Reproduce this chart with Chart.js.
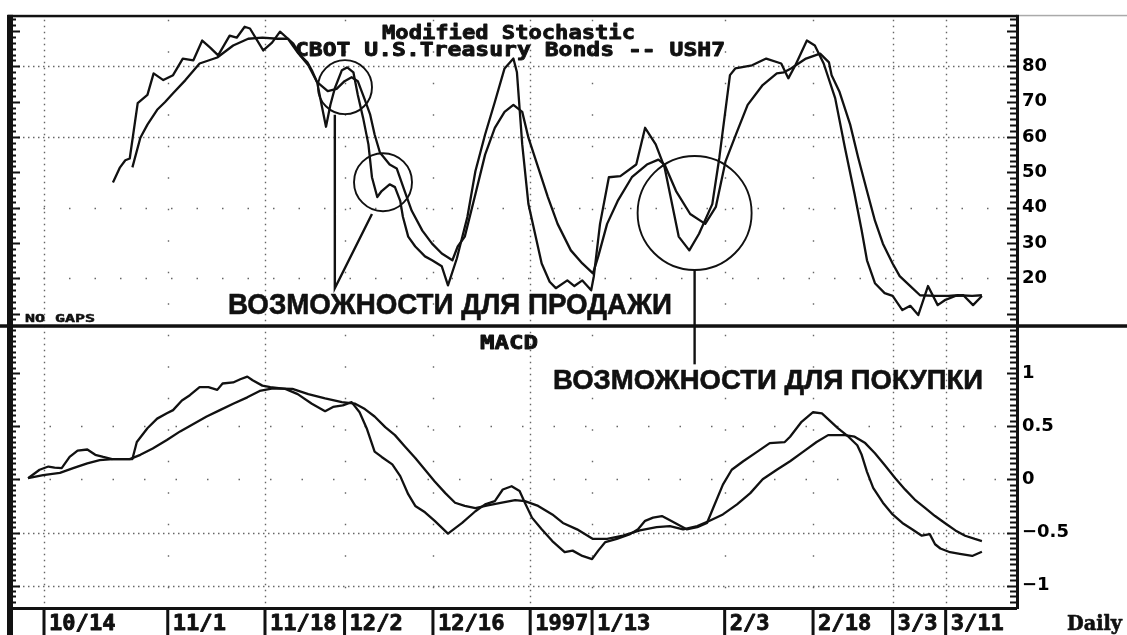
<!DOCTYPE html>
<html lang="ru">
<head>
  <meta charset="UTF-8" />
  <title>Modified Stochastic / MACD - USH7</title>
  <script src="https://cdn.jsdelivr.net/npm/chart.js"></script>
  <style>
    html, body { margin: 0; padding: 0; background: #fff; }
    #wrap { width: 1127px; height: 635px; }
  </style>
</head>
<body>
  <div id="wrap"><canvas id="chart" width="1127" height="635"></canvas></div>

  <script>
    // x unit = trading day counted from 10/14/96
    const dateTicks  = [0, 14, 25, 34, 44, 55, 62, 77, 87, 96, 102];
    const dateLabels = ['10/14', '11/1', '11/18', '12/2', '12/16', '1997', '1/13', '2/3', '2/18', '3/3', '3/11'];
    const denseDays  = [0, 25, 55, 96, 102];
    const sparseDays = [14, 34, 44, 62, 77, 87];

    const stochTicks = [20, 30, 40, 50, 60, 70, 80];
    const macdTicks  = [-1, -0.5, 0, 0.5, 1];

    // Modified stochastic, fast line
    const kDays = [7.8, 8.6, 9.2, 9.7, 10.6, 11.7, 12.4, 13.5, 14.6, 15.7,
      16.9, 17.9, 18.8, 19.7, 21.0, 21.8, 22.7, 23.3, 24.8, 25.8,
      26.7, 27.6, 28.2, 29.0, 29.8, 30.3, 30.9, 31.4, 31.9, 32.4,
      32.9, 33.7, 34.3, 35.0, 35.5, 36.1, 36.7, 37.1, 37.7, 38.2,
      39.1, 39.7, 40.3, 40.6, 41.2, 42.0, 43.1, 43.9, 45.0, 45.7,
      46.7, 47.9, 48.8, 49.9, 51.0, 52.1, 53.1, 53.5, 54.1, 54.8,
      56.3, 57.2, 57.9, 59.2, 60.0, 60.9, 61.9, 62.2, 62.9, 63.9,
      65.2, 67.0, 68.0, 69.2, 70.2, 71.8, 73.0, 74.1, 75.6, 76.4,
      77.6, 78.2, 80.1, 81.7, 83.4, 84.2, 85.0, 86.3, 87.2, 88.2,
      89.5, 90.6, 91.7, 92.5, 93.1, 94.0, 95.1, 96.0, 97.1, 98.0,
      98.9, 100.0, 101.1, 101.9, 103.1, 104.0, 105.1, 106.1];
    const kVals = [47.1, 51.4, 53.4, 53.9, 69.6, 71.9, 78.0, 76.1, 77.5, 82.2,
      81.7, 87.3, 85.3, 83.1, 88.7, 88.1, 91.2, 90.7, 84.5, 86.7,
      89.8, 87.8, 86.4, 83.1, 81.1, 78.9, 75.5, 69.1, 62.9, 69.1,
      73.8, 78.9, 79.7, 78.3, 71.9, 65.4, 57.9, 48.6, 43.0, 44.7,
      46.6, 45.8, 41.9, 37.4, 31.8, 29.0, 26.2, 25.1, 23.4, 18.0,
      25.6, 37.4, 50.3, 60.7, 69.9, 79.4, 82.2, 78.3, 57.9, 41.0,
      24.2, 19.0, 17.2, 19.4, 17.8, 19.4, 16.6, 20.6, 35.4, 48.6,
      48.9, 52.2, 62.6, 57.9, 51.4, 31.8, 27.9, 32.6, 41.0, 54.2,
      77.5, 79.4, 80.3, 82.2, 80.8, 76.6, 80.3, 87.3, 85.9, 80.8,
      71.0, 57.0, 43.8, 33.5, 25.1, 18.6, 15.8, 15.0, 11.0, 12.2,
      9.6, 17.8, 12.4, 13.8, 15.0, 15.2, 12.4, 15.0];

    // Modified stochastic, slow line
    const dDays = [10.0, 10.9, 11.7, 12.8, 13.7, 14.6, 16.0, 17.6, 19.6, 21.4,
      23.1, 24.7, 26.4, 27.6, 28.7, 29.9, 30.9, 32.1, 33.1, 34.0,
      34.8, 35.5, 36.3, 36.9, 37.4, 38.0, 39.1, 39.9, 40.8, 41.6,
      42.8, 43.9, 45.0, 46.2, 46.8, 47.6, 48.8, 49.9, 51.0, 52.1,
      53.1, 54.1, 54.8, 55.9, 57.0, 58.1, 59.6, 60.9, 62.1, 62.7,
      63.7, 64.9, 66.5, 68.2, 69.5, 70.2, 71.5, 73.1, 74.8, 76.0,
      77.1, 78.4, 79.6, 81.3, 82.9, 83.7, 84.5, 86.2, 87.8, 88.8,
      89.1, 90.0, 91.2, 92.1, 93.1, 94.0, 94.9, 96.0, 96.8, 98.0,
      99.1, 100.8, 102.3, 103.4, 105.0, 106.1];
    const dVals = [51.4, 59.8, 63.5, 67.7, 69.9, 72.4, 76.1, 80.8, 82.5, 85.9,
      87.8, 88.1, 87.8, 87.8, 83.9, 80.3, 75.5, 73.0, 73.6, 75.8,
      76.9, 75.8, 70.5, 66.3, 60.7, 55.6, 52.2, 51.1, 44.7, 39.1,
      33.5, 29.8, 27.0, 25.1, 29.0, 31.8, 43.8, 55.0, 62.6, 67.1,
      69.1, 67.1, 59.8, 51.4, 43.0, 35.4, 27.9, 24.2, 21.4, 26.2,
      35.4, 41.9, 48.6, 52.2, 53.6, 52.2, 44.7, 38.2, 35.4, 40.2,
      53.1, 61.5, 69.1, 74.7, 78.0, 78.3, 79.4, 82.2, 83.6, 81.1,
      77.5, 72.7, 63.5, 54.2, 44.7, 36.3, 29.8, 24.2, 20.6, 17.8,
      15.2, 15.0, 15.0, 15.2, 15.0, 15.2];

    // MACD line
    const mDays = [-1.8, -0.5, 0.5, 1.2, 2.0, 2.9, 3.8, 4.9, 5.8, 6.7,
      7.7, 10.0, 10.5, 11.7, 12.8, 13.9, 14.6, 15.6, 16.5, 17.6,
      18.6, 19.6, 20.2, 21.4, 22.2, 23.0, 23.6, 24.7, 25.6, 27.3,
      28.7, 30.3, 31.8, 32.7, 33.8, 34.8, 35.7, 36.5, 37.4, 38.2,
      39.4, 40.3, 41.2, 42.0, 43.1, 44.2, 45.7, 47.3, 48.8, 49.9,
      51.0, 51.9, 52.9, 53.8, 54.4, 55.2, 56.3, 57.5, 58.9, 59.8,
      60.9, 62.0, 62.7, 63.5, 64.8, 66.3, 67.2, 68.0, 68.9, 69.9,
      70.6, 71.6, 72.7, 73.9, 75.0, 75.7, 76.8, 77.8, 79.1, 80.7,
      82.1, 83.8, 84.4, 85.7, 87.0, 88.0, 89.8, 91.0, 92.0, 92.5,
      93.1, 93.8, 94.9, 96.0, 97.1, 98.2, 99.3, 100.2, 100.8, 101.4,
      102.5, 103.6, 105.0, 106.1];
    const mVals = [0.01, 0.09, 0.12, 0.11, 0.105, 0.21, 0.27, 0.28, 0.23, 0.21,
      0.19, 0.19, 0.35, 0.48, 0.57, 0.62, 0.65, 0.74, 0.79, 0.865,
      0.865, 0.84, 0.90, 0.91, 0.94, 0.965, 0.93, 0.88, 0.865, 0.85,
      0.80, 0.71, 0.64, 0.68, 0.695, 0.725, 0.63, 0.48, 0.26, 0.21,
      0.14, 0.03, -0.14, -0.25, -0.31, -0.39, -0.51, -0.41, -0.30, -0.235,
      -0.205, -0.096, -0.065, -0.11, -0.22, -0.36, -0.47, -0.58, -0.685, -0.67,
      -0.72, -0.75, -0.67, -0.59, -0.56, -0.515, -0.47, -0.39, -0.36, -0.345,
      -0.375, -0.42, -0.47, -0.45, -0.41, -0.27, -0.05, 0.09, 0.17, 0.26,
      0.34, 0.35, 0.40, 0.54, 0.63, 0.62, 0.48, 0.40, 0.32, 0.23,
      0.07, -0.08, -0.22, -0.33, -0.41, -0.47, -0.53, -0.515, -0.61, -0.65,
      -0.685, -0.70, -0.72, -0.68];

    // MACD signal line
    const sDays = [-1.8, -0.1, 1.8, 3.3, 4.9, 6.3, 7.8, 9.7, 10.9, 12.3,
      13.9, 15.4, 16.9, 18.4, 19.9, 21.4, 23.0, 24.4, 25.9, 28.1,
      29.9, 31.8, 33.7, 35.2, 36.3, 37.4, 38.6, 39.7, 40.8, 42.0,
      43.1, 44.2, 45.4, 46.5, 47.6, 48.8, 50.2, 51.8, 53.3, 54.4,
      55.9, 57.5, 58.7, 60.3, 62.1, 63.7, 65.5, 67.4, 69.3, 70.8,
      72.3, 73.9, 75.3, 76.8, 78.4, 79.9, 81.3, 82.9, 84.4, 85.9,
      87.4, 88.7, 90.6, 91.7, 92.9, 94.0, 95.1, 96.3, 97.4, 98.5,
      99.7, 100.8, 101.9, 103.1, 104.2, 105.3, 106.1];
    const sVals = [0.01, 0.04, 0.06, 0.105, 0.15, 0.18, 0.19, 0.19, 0.23, 0.29,
      0.37, 0.45, 0.52, 0.59, 0.65, 0.71, 0.77, 0.83, 0.855, 0.85,
      0.80, 0.76, 0.725, 0.71, 0.66, 0.59, 0.49, 0.415, 0.31, 0.20,
      0.09, -0.02, -0.13, -0.22, -0.25, -0.27, -0.245, -0.22, -0.195, -0.205,
      -0.25, -0.33, -0.41, -0.47, -0.56, -0.56, -0.53, -0.48, -0.45, -0.44,
      -0.47, -0.44, -0.39, -0.33, -0.235, -0.13, 0.00, 0.09, 0.17, 0.26,
      0.35, 0.415, 0.415, 0.40, 0.34, 0.245, 0.135, 0.01, -0.095, -0.19,
      -0.27, -0.345, -0.41, -0.48, -0.53, -0.56, -0.58];

    // hand-drawn notes, in chart units (day, value)
    const sellRings = [{ day: 34.05, val: 74.1, r: 27 }, { day: 38.35, val: 47.2, r: 29 }];
    const buyRing = { day: 73.6, val: 38.5, r: 57 };
    const sellPointer = { days: [32.9, 32.9, 37.1], vals: [66.3, 17.2, 38.2] };
    const buyPointer = { day: 73.6, fromStoch: 22.2, toMacd: 1.08 };

    const ink = '#111';

    function pts(days, vals) {
      return days.map((d, i) => ({ x: d, y: vals[i] }));
    }

    // draw text squeezed/stretched to a given width; heavy = extra outline
    function fitText(ctx, text, left, baseline, width, font, heavy) {
      ctx.save();
      ctx.font = font;
      const w = ctx.measureText(text).width;
      ctx.translate(left, baseline);
      ctx.scale(width / w, 1);
      ctx.textAlign = 'left';
      ctx.textBaseline = 'alphabetic';
      ctx.fillText(text, 0, 0);
      if (heavy) {
        ctx.lineWidth = heavy;
        ctx.lineJoin = 'round';
        ctx.strokeText(text, 0, 0);
      }
      ctx.restore();
    }

    const paper = {
      id: 'paper',
      beforeDatasetsDraw(chart) {
        const { ctx, chartArea: a, scales: { x, yS, yM } } = chart;
        ctx.save();
        ctx.strokeStyle = '#666';
        ctx.lineWidth = 1.4;

        function hline(scale, v, dash) {
          const y = Math.round(scale.getPixelForValue(v)) + 0.5;
          ctx.setLineDash(dash);
          ctx.beginPath();
          ctx.moveTo(a.left + 6, y);
          ctx.lineTo(a.right - 8, y);
          ctx.stroke();
        }
        hline(yS, 80, [1.5, 3.5]);
        hline(yS, 60, [1.5, 3.5]);
        hline(yS, 40, [1.5, 24]);
        hline(yS, 20, [1.5, 24]);
        hline(yM, 0.5, [1.5, 30]);
        hline(yM, 0, [1.5, 30]);
        hline(yM, -0.5, [1.5, 3.5]);
        hline(yM, -1, [1.5, 3.5]);

        function vline(day, dash) {
          const px = Math.round(x.getPixelForValue(day)) + 0.5;
          ctx.setLineDash(dash);
          ctx.beginPath();
          ctx.moveTo(px, a.top + 4);
          ctx.lineTo(px, a.bottom - 2);
          ctx.stroke();
        }
        denseDays.forEach(d => vline(d, [1.5, 4.5]));
        sparseDays.forEach(d => vline(d, [1.5, 30]));
        ctx.restore();
      },

      afterDatasetsDraw(chart) {
        const { ctx, chartArea: a, scales: { x, yS, yM } } = chart;
        const W = chart.width, H = chart.height;
        const split = yS.bottom;
        ctx.save();
        ctx.fillStyle = ink;
        ctx.strokeStyle = ink;

        // frame
        ctx.fillRect(7, a.top - 1, 6, H - a.top + 1);          // left border
        ctx.fillRect(8, a.top - 1, a.right - 8, 2.5);           // top border
        ctx.fillStyle = '#aaa';
        ctx.fillRect(a.right, a.top - 1, W - a.right, 1.5);
        ctx.fillStyle = ink;
        ctx.fillRect(0, split - 1, W, 3.5);                     // panel divider
        ctx.fillRect(8, a.bottom - 1, a.right - 8, 3);          // bottom of MACD pane
        ctx.fillRect(a.right - 1, a.top - 1, 3, a.bottom - a.top + 2); // right axis

        // tick marks
        ctx.lineWidth = 1.8;
        function tickRun(scale, from, to, step, majorEvery) {
          for (let i = 0; ; i++) {
            const v = from + i * step;
            if (v > to + 1e-9) break;
            const y = Math.round(scale.getPixelForValue(v)) + 0.5;
            if (y < scale.top + 3 || y > scale.bottom - 3) continue;
            const major = i % majorEvery === 0;
            ctx.beginPath();
            ctx.moveTo(13, y); ctx.lineTo(major ? 20 : 16, y);
            ctx.moveTo(a.right - (major ? 10 : 7), y); ctx.lineTo(a.right, y);
            ctx.stroke();
          }
        }
        tickRun(yS, 0, 100, 10 / 6, 6);
        tickRun(yM, -1.5, 1.5, 0.05, 10);

        // date row
        const mono = 'bold 21px "DejaVu Sans Mono"';
        dateTicks.forEach((d, i) => {
          const px = x.getPixelForValue(d);
          ctx.fillRect(px - 1.5, a.bottom, 3, H - a.bottom);
          fitText(ctx, dateLabels[i], px + 5, H - 5, dateLabels[i].length * 13.3, mono, 0.8);
        });
        fitText(ctx, 'Daily', 1067, H - 5, 55, 'bold 20px "DejaVu Serif"', 0.6);

        // titles
        fitText(ctx, 'Modified Stochastic', 382, a.top + 23, 253, 'bold 20px "DejaVu Sans Mono"', 0.9);
        fitText(ctx, 'CBOT U.S.Treasury Bonds -- USH7', 295, a.top + 40, 430, 'bold 20px "DejaVu Sans Mono"', 0.9);
        fitText(ctx, 'MACD', 480, split + 24, 58, 'bold 20px "DejaVu Sans Mono"', 0.9);
        fitText(ctx, 'NO GAPS', 25, split - 3, 70, 'bold 11px "DejaVu Sans Mono"', 0.5);

        // notes
        ctx.lineWidth = 1.9;
        sellRings.concat([buyRing]).forEach(c => {
          ctx.beginPath();
          ctx.arc(x.getPixelForValue(c.day), yS.getPixelForValue(c.val), c.r, 0, Math.PI * 2);
          ctx.stroke();
        });
        ctx.lineWidth = 2.4;
        ctx.beginPath();
        sellPointer.days.forEach((d, i) => {
          const px = x.getPixelForValue(d), py = yS.getPixelForValue(sellPointer.vals[i]);
          if (i === 0) ctx.moveTo(px, py); else ctx.lineTo(px, py);
        });
        ctx.stroke();
        ctx.beginPath();
        ctx.moveTo(x.getPixelForValue(buyPointer.day), yS.getPixelForValue(buyPointer.fromStoch));
        ctx.lineTo(x.getPixelForValue(buyPointer.day), yM.getPixelForValue(buyPointer.toMacd));
        ctx.stroke();

        fitText(ctx, 'ВОЗМОЖНОСТИ ДЛЯ ПРОДАЖИ', 228, 314, 444, 'bold 29px "Liberation Sans"', 0.6);
        fitText(ctx, 'ВОЗМОЖНОСТИ ДЛЯ ПОКУПКИ', 553, 389, 430, 'bold 27px "Liberation Sans"', 0.6);
        ctx.restore();
      }
    };

    const axisFont = { family: 'DejaVu Sans', weight: 'bold', size: 18 };

    new Chart(document.getElementById('chart'), {
      type: 'line',
      data: {
        datasets: [
          { label: '%K', data: pts(kDays, kVals), yAxisID: 'yS' },
          { label: '%D', data: pts(dDays, dVals), yAxisID: 'yS' },
          { label: 'MACD', data: pts(mDays, mVals), yAxisID: 'yM' },
          { label: 'Signal', data: pts(sDays, sVals), yAxisID: 'yM' }
        ]
      },
      options: {
        responsive: false,
        animation: false,
        events: [],
        devicePixelRatio: 1,
        layout: { padding: { left: 12, top: 10, right: 0, bottom: 27 } },
        elements: {
          line: { borderColor: ink, borderWidth: 2.3, tension: 0, fill: false, borderJoinStyle: 'round' },
          point: { radius: 0 }
        },
        plugins: { legend: { display: false }, tooltip: { enabled: false } },
        scales: {
          x: { type: 'linear', min: -3.62, max: 110.07, display: false },
          yS: {
            type: 'linear', position: 'right', stack: 'panes', stackWeight: 312.5,
            min: 6.7, max: 94.3,
            grid: { display: false, drawTicks: false }, border: { display: false },
            afterBuildTicks: s => { s.ticks = stochTicks.map(v => ({ value: v })); },
            afterFit: s => { s.width = 110; },
            ticks: { color: '#000', padding: 5, autoSkip: false, font: axisFont }
          },
          yM: {
            type: 'linear', position: 'right', stack: 'panes', stackWeight: 285.5,
            min: -1.209, max: 1.447,
            grid: { display: false, drawTicks: false }, border: { display: false },
            afterBuildTicks: s => { s.ticks = macdTicks.map(v => ({ value: v })); },
            afterFit: s => { s.width = 110; },
            ticks: {
              color: '#000', padding: 5, autoSkip: false, font: axisFont,
              callback: v => (v < 0 ? '\u2212' + Math.abs(v) : String(v))
            }
          }
        }
      },
      plugins: [paper]
    });
  </script>
</body>
</html>
